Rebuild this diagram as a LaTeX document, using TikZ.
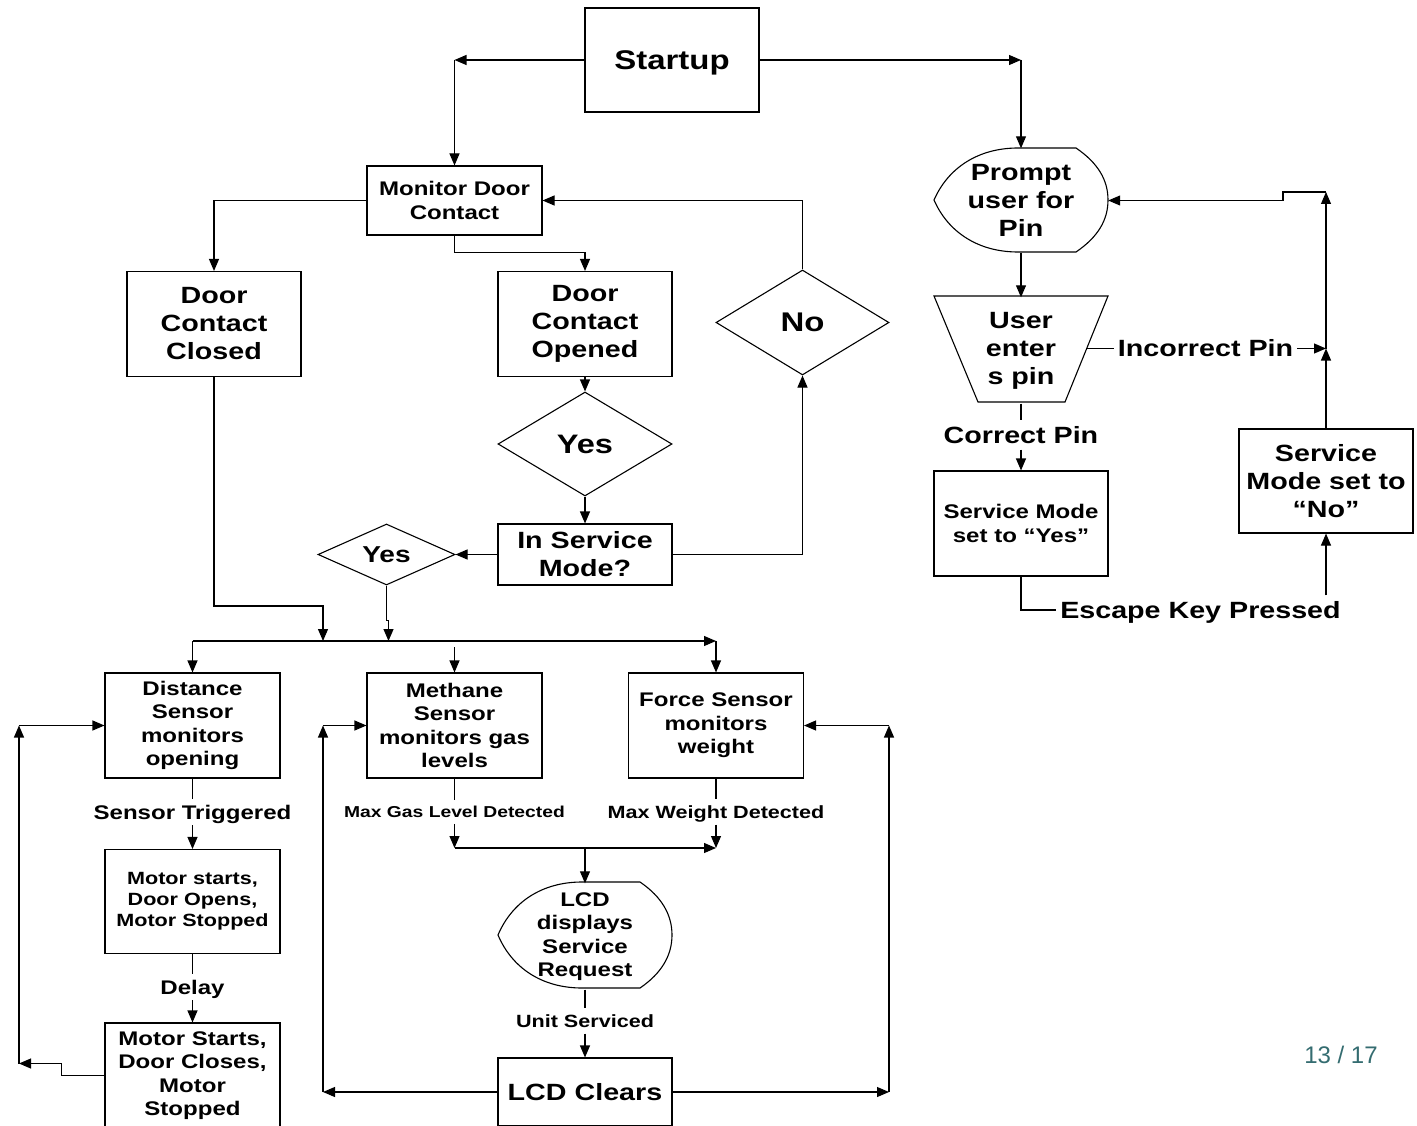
\documentclass[tikz,border=0pt]{standalone}
\usepackage{fontspec}
\setmainfont{Liberation Sans}[FakeStretch=1.22]
\newfontfamily\pnfont{Liberation Sans}
\usetikzlibrary{arrows.meta,shapes.geometric}
\definecolor{pncol}{RGB}{52,108,112}
\begin{document}
\begin{tikzpicture}[x=1pt,y=-1pt,
  ln/.style={line width=1.1pt},
  arr/.style={line width=1.1pt,-{Triangle[length=12pt,width=10pt]}},
  fXL/.style={font=\fontsize{27}{32}\selectfont\bfseries},
  fL/.style={font=\fontsize{23.5}{28}\selectfont\bfseries},
  fM/.style={font=\fontsize{19.7}{23.5}\selectfont\bfseries},
  fS/.style={font=\fontsize{17.7}{21}\selectfont\bfseries},
  fT/.style={font=\fontsize{15.8}{19}\selectfont\bfseries},
  box/.style={draw,line width=1.1pt,rectangle,inner sep=0pt,align=center},
  dia/.style={draw,line width=1.1pt,diamond,inner sep=0pt,align=center},
  txt/.style={inner sep=0pt,align=center},
  lbl/.style={inner xsep=4pt,inner ysep=6pt,text depth=0pt,text height=#1}
]
\useasboundingbox (0,0) rectangle (1417,1126);
\clip (0,0) rectangle (1417,1126);

% ---- nodes, left part
\node[box,fXL,minimum width=174,minimum height=104,text height=19.3pt,text depth=0pt] (start) at (672,60) {Startup};
\node[box,fM,minimum width=175,minimum height=69] (monitor) at (454.5,200.5) {Monitor Door\\Contact};
\node[box,fL,minimum width=174,minimum height=105] (closed) at (214,324) {Door\\Contact\\Closed};
\node[box,fL,minimum width=174,minimum height=105] (opened) at (585,324) {Door\\Contact\\Opened};
\node[dia,fXL,minimum width=173,minimum height=105,aspect=1.65] (no) at (802.5,322.5) {No};
\node[dia,font=\fontsize{26.7}{32}\selectfont\bfseries,minimum width=174,minimum height=104,aspect=1.67] (yes1) at (585,444) {Yes};
\node[box,fL,minimum width=174,minimum height=61] (svc) at (585,554.5) {In Service\\Mode?};
\node[dia,font=\fontsize{23}{28}\selectfont\bfseries,minimum width=137,minimum height=61,aspect=2.25] (yes2) at (386.5,554.5) {Yes};

\node[box,fM,minimum width=175,minimum height=105] (dist) at (192.5,725.5) {Distance\\Sensor\\monitors\\opening};
\node[box,fM,minimum width=175,minimum height=105] (meth) at (454.5,725.5) {Methane\\Sensor\\monitors gas\\levels};
\node[box,fM,minimum width=175,minimum height=105] (force) at (716,725.5) {Force Sensor\\monitors\\weight};
\node[box,fS,minimum width=175,minimum height=104] (mopen) at (192.5,901.5) {Motor starts,\\Door Opens,\\Motor Stopped};
\node[box,fM,minimum width=175,minimum height=105] (mclose) at (192.5,1075.5) {Motor Starts,\\Door Closes,\\Motor\\Stopped};
\node[box,fL,minimum width=174,minimum height=68] (lcdclr) at (585,1092) {LCD Clears};

\draw[ln,shift={(585,935)}] (-87,0) .. controls (-73,-33) and (-43,-53) .. (-3,-53) -- (55,-53)
  .. controls (77,-38) and (87,-20) .. (87,0) .. controls (87,20) and (77,38) .. (55,53)
  -- (-3,53) .. controls (-43,53) and (-73,33) .. (-87,0) -- cycle;
\node[txt,fM,minimum width=174,minimum height=106] (lcd) at (585,936.5) {LCD\\displays\\Service\\Request};

% ---- nodes, right part
\draw[ln,shift={(1021,200)}] (-87,0) .. controls (-73,-32) and (-43,-52) .. (-3,-52) -- (55,-52)
  .. controls (77,-37) and (87,-20) .. (87,0) .. controls (87,20) and (77,37) .. (55,52)
  -- (-3,52) .. controls (-43,52) and (-73,32) .. (-87,0) -- cycle;
\node[txt,fL,minimum width=174,minimum height=104] (prompt) at (1021,200.5) {Prompt\\user for\\Pin};

\draw[ln] (934,296) -- (1108,296) -- (1065,402) -- (978,402) -- cycle;
\node[txt,fL,minimum width=174,minimum height=106] (user) at (1021,350.5) {User\\enter\\s pin};

\node[box,fM,minimum width=174,minimum height=105] (svyes) at (1021,523.5) {Service Mode\\set to “Yes”};
\node[box,fL,minimum width=174,minimum height=104] (svno) at (1326,481) {Service\\Mode set to\\“No”};

% ---- labels
\node[lbl=14.1pt,fM] (lST) at (192.5,812) {Sensor Triggered};
\node[lbl=14.1pt,fM] (lDelay) at (192.5,987) {Delay};
\node[lbl=11.3pt,fT] (lGas) at (454.5,812) {Max Gas Level Detected};
\node[lbl=12.7pt,fS] (lMW) at (716,812) {Max Weight Detected};
\node[lbl=12.7pt,fS] (lUS) at (585,1021) {Unit Serviced};
\node[lbl=16.8pt,fL] (lCP) at (1021,435) {Correct Pin};
\node[lbl=16.8pt,fL] (lIP) at (1205.5,348.5) {Incorrect Pin};
\node[lbl=16.8pt,fL] (lEsc) at (1200.5,610) {Escape Key Pressed};

\node[inner sep=0pt,font=\pnfont\fontsize{24}{28}\selectfont,text=pncol] (pn) at (1341,1055) {13 / 17};

% ---- coordinates
\coordinate (cS1) at (454.5,60);
\coordinate (cS2) at (1021,60);
\coordinate (busL) at (192.5,641);
\coordinate (busR) at (716,641);
\coordinate (busM) at (454.5,647);
\coordinate (bus1) at (323,641);
\coordinate (bus2) at (388.5,641);
\coordinate (jG) at (454.5,848);
\coordinate (jF) at (716,848);
\coordinate (jM) at (585,848);
\coordinate (cL1) at (19,1063.5);
\coordinate (cL2) at (19,725.5);
\coordinate (cM1) at (323,1092);
\coordinate (cM2) at (323,725.5);
\coordinate (cF1) at (889,1092);
\coordinate (cF2) at (889,725.5);
\coordinate (uE) at (1086.5,348.5);
\coordinate (cR2) at (1326,348.5);
\coordinate (cR1) at (1326,192);

% ---- connectors
\draw[arr] (start.west) -- (cS1);
\draw[arr] (cS1) -- (monitor.north);
\draw[arr] (start.east) -- (cS2);
\draw[arr] (cS2) -- (prompt.north);
\draw[arr] (monitor.west) -| (closed.north);
\draw[arr] (monitor.south) -- ++(0,17) -| (opened.north);
\draw[arr] (no.north) |- (monitor.east);
\draw[arr] (opened.south) -- (yes1.north);
\draw[arr] (yes1.south) -- (svc.north);
\draw[arr] (svc.east) -| (no.south);
\draw[arr] (svc.west) -- (yes2.east);
\draw[arr] (yes2.south) -- ++(0,35) -- ++(2,0) -- (bus2);
\draw[arr] (closed.south) -- (214,606) -| (bus1);
\draw[arr] (busL) -- (busR);
\draw[arr] (busL) -- (dist.north);
\draw[arr] (busM) -- (meth.north);
\draw[arr] (busR) -- (force.north);
\draw[ln] (dist.south) -- (lST.north);
\draw[arr] (lST.south) -- (mopen.north);
\draw[ln] (mopen.south) -- (lDelay.north);
\draw[arr] (lDelay.south) -- (mclose.north);
\draw[arr] (mclose.west) -- ++(-43,0) -- ++(0,-12) -- (cL1);
\draw[arr] (cL1) -- (cL2);
\draw[arr] (cL2) -- (dist.west);
\draw[ln] (meth.south) -- (lGas.north);
\draw[arr] (lGas.south) -- (jG);
\draw[ln] (force.south) -- (lMW.north);
\draw[arr] (lMW.south) -- (jF);
\draw[arr] (jG) -- (jF);
\draw[arr] (jM) -- (lcd.north);
\draw[ln] (lcd.south) -- (lUS.north);
\draw[arr] (lUS.south) -- (lcdclr.north);
\draw[arr] (lcdclr.west) -- (cM1);
\draw[arr] (cM1) -- (cM2);
\draw[arr] (cM2) -- (meth.west);
\draw[arr] (lcdclr.east) -- (cF1);
\draw[arr] (cF1) -- (cF2);
\draw[arr] (cF2) -- (force.east);

\draw[arr] (prompt.south) -- (user.north);
\draw[ln] (user.south) -- (lCP.north);
\draw[arr] (lCP.south) -- (svyes.north);
\draw[ln] (svyes.south) |- (lEsc.west);
\draw[arr] (lEsc.north -| svno.south) -- (svno.south);
\draw[ln] (uE) -- (lIP.west);
\draw[arr] (lIP.east) -- (cR2);
\draw[arr] (svno.north) -- (cR2);
\draw[arr] (cR2) -- (cR1);
\draw[arr] (cR1) -- (1283,192) |- (prompt.east);
\end{tikzpicture}
\end{document}
